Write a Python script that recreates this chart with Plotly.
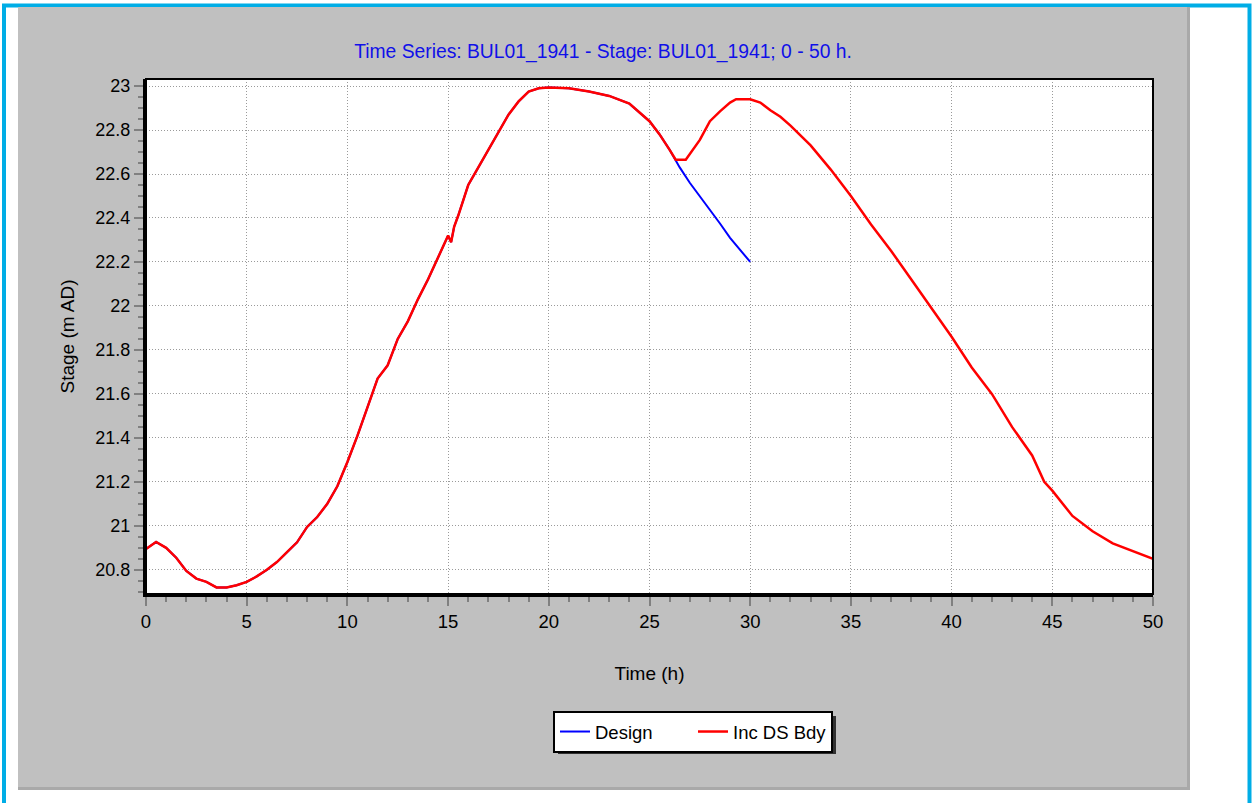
import plotly.graph_objects as go

# ---- data ----
time_inc = [0, 0.5, 1, 1.5, 2, 2.5, 3, 3.5, 4, 4.5, 5, 5.5, 6, 6.5, 7, 7.5, 8, 8.5, 9, 9.5,
            10, 10.5, 11, 11.5, 12, 12.5, 13, 13.5, 14, 14.5, 15, 15.15, 15.3, 15.5, 16, 16.5,
            17, 17.5, 18, 18.5, 19, 19.5, 20, 21, 22, 23, 24, 25, 25.5, 26, 26.3, 26.8, 27,
            27.5, 28, 28.5, 29, 29.3, 30, 30.5, 31, 31.5, 32, 33, 34, 35, 36, 37, 38, 39, 40,
            41, 42, 43, 44, 44.6, 45, 46, 47, 48, 49, 50]
stage_inc = [20.895, 20.927, 20.90, 20.855, 20.795, 20.76, 20.745, 20.72, 20.72, 20.73, 20.745,
             20.77, 20.80, 20.835, 20.88, 20.925, 20.995, 21.04, 21.10, 21.18,
             21.29, 21.41, 21.54, 21.67, 21.73, 21.85, 21.93, 22.03, 22.12, 22.22, 22.32, 22.29,
             22.36, 22.41, 22.55, 22.63, 22.71, 22.79, 22.87, 22.93, 22.975, 22.99, 22.993,
             22.99, 22.975, 22.955, 22.92, 22.84, 22.78, 22.71, 22.665, 22.665, 22.69,
             22.755, 22.84, 22.885, 22.925, 22.94, 22.94, 22.925, 22.89, 22.86, 22.82, 22.73,
             22.62, 22.50, 22.37, 22.25, 22.12, 21.99, 21.86, 21.72, 21.60, 21.45, 21.32,
             21.20, 21.16, 21.045, 20.975, 20.92, 20.885, 20.85]

time_design = [0, 0.5, 1, 1.5, 2, 2.5, 3, 3.5, 4, 4.5, 5, 5.5, 6, 6.5, 7, 7.5, 8, 8.5, 9, 9.5,
               10, 10.5, 11, 11.5, 12, 12.5, 13, 13.5, 14, 14.5, 15, 15.15, 15.3, 15.5, 16, 16.5,
               17, 17.5, 18, 18.5, 19, 19.5, 20, 21, 22, 23, 24, 25, 25.5, 26, 26.5, 27, 27.5,
               28, 28.5, 29, 29.5, 30]
stage_design = [20.895, 20.927, 20.90, 20.855, 20.795, 20.76, 20.745, 20.72, 20.72, 20.73, 20.745,
                20.77, 20.80, 20.835, 20.88, 20.925, 20.995, 21.04, 21.10, 21.18,
                21.29, 21.41, 21.54, 21.67, 21.73, 21.85, 21.93, 22.03, 22.12, 22.22, 22.32, 22.29,
                22.36, 22.41, 22.55, 22.63, 22.71, 22.79, 22.87, 22.93, 22.975, 22.99, 22.993,
                22.99, 22.975, 22.955, 22.92, 22.84, 22.78, 22.71, 22.63, 22.56, 22.50,
                22.44, 22.375, 22.31, 22.255, 22.20]

x_ticks = [0, 5, 10, 15, 20, 25, 30, 35, 40, 45, 50]
y_ticks = [20.8, 21, 21.2, 21.4, 21.6, 21.8, 22, 22.2, 22.4, 22.6, 22.8, 23]
y_tick_labels = ["20.8", "21", "21.2", "21.4", "21.6", "21.8", "22", "22.2", "22.4", "22.6", "22.8", "23"]

title_text = "Time Series: BUL01_1941 - Stage: BUL01_1941; 0 - 50 h."

# ---- geometry helpers (pixel -> paper) ----
W, H = 1253, 803
L, R, T, B = 146, 1153, 79, 594
PW, PH = R - L, B - T


def px(x):
    return (x - L) / PW


def py(y):
    return (B - y) / PH


FONT = "Liberation Sans, Arial, Helvetica, sans-serif"

fig = go.Figure()
fig.add_trace(go.Scatter(x=time_design, y=stage_design, mode="lines", name="Design",
                         line=dict(color="#0000FF", width=2)))
fig.add_trace(go.Scatter(x=time_inc, y=stage_inc, mode="lines", name="Inc DS Bdy",
                         line=dict(color="#FF0000", width=2.5)))

LEG_TOP, LEG_H = 711, 39

shapes = [
    # cyan outer border
    dict(type="rect", xref="paper", yref="paper", x0=px(4), x1=px(1249.5), y0=py(806), y1=py(5.5),
         line=dict(color="#00ADE6", width=4), fillcolor="rgba(0,0,0,0)", layer="below"),
    # gray panel (dark edge)
    dict(type="rect", xref="paper", yref="paper", x0=px(18), x1=px(1190), y0=py(790), y1=py(7),
         line=dict(width=0), fillcolor="#A9A9A9", layer="below"),
    dict(type="rect", xref="paper", yref="paper", x0=px(18), x1=px(1187), y0=py(787), y1=py(7),
         line=dict(width=0), fillcolor="#C0C0C0", layer="below"),
    # white plot area
    dict(type="rect", xref="paper", yref="paper", x0=0, x1=1, y0=0, y1=1,
         line=dict(width=0), fillcolor="#FFFFFF", layer="below"),
    # legend shadow
    dict(type="rect", xref="paper", yref="paper", x0=px(558), x1=px(836),
         y0=py(LEG_TOP + LEG_H + 4), y1=py(LEG_TOP + 5),
         line=dict(width=0), fillcolor="#303030", layer="below"),
    # frame top/right
    dict(type="rect", xref="paper", yref="paper", x0=0, x1=1, y0=0, y1=1,
         line=dict(color="#000000", width=2), fillcolor="rgba(0,0,0,0)", layer="above"),
]

fig.update_layout(
    width=W, height=H,
    margin=dict(l=L, r=W - R, t=T, b=H - B, pad=0),
    paper_bgcolor="#FFFFFF",
    plot_bgcolor="#FFFFFF",
    font=dict(family=FONT, color="#000000", size=18),
    title=dict(text=title_text, x=px(603), xref="paper", xanchor="center",
               y=1 - 51 / H, yref="container", yanchor="middle",
               font=dict(family=FONT, size=19.3, color="#1010E8")),
    shapes=shapes,
    showlegend=True,
    legend=dict(orientation="h", x=px(553), y=py(LEG_TOP), xanchor="left", yanchor="top",
                bgcolor="#FFFFFF", bordercolor="#000000", borderwidth=2,
                font=dict(family=FONT, size=18.5, color="#000000"),
                entrywidth=93, entrywidthmode="pixels", itemwidth=30,
                traceorder="normal"),
)

fig.update_xaxes(
    range=[0, 50], tickmode="array", tickvals=x_ticks,
    showline=True, linecolor="#000000", linewidth=3, mirror=False,
    ticks="outside", ticklen=9, tickwidth=2, tickcolor="#808080",
    tickfont=dict(family=FONT, size=18.5, color="#000000"),
    showgrid=True, gridcolor="#9A9A9A", griddash="1px,2px", gridwidth=1,
    zeroline=False,
    minor=dict(dtick=1, ticks="outside", ticklen=5, tickwidth=2, tickcolor="#808080", showgrid=False),
    title=dict(text="Time (h)", font=dict(family=FONT, size=19, color="#000000"), standoff=36),
)
fig.update_yaxes(
    range=[20.69, 23.032], tickmode="array", tickvals=y_ticks, ticktext=y_tick_labels,
    showline=True, linecolor="#000000", linewidth=3, mirror=False,
    ticks="outside", ticklen=9, tickwidth=2, tickcolor="#808080",
    tickfont=dict(family=FONT, size=18, color="#000000"),
    showgrid=True, gridcolor="#9A9A9A", griddash="1px,2px", gridwidth=1,
    zeroline=False,
    minor=dict(dtick=0.05, tick0=20.8, ticks="outside", ticklen=5, tickwidth=2, tickcolor="#808080", showgrid=False),
    title=dict(text="Stage (m AD)", font=dict(family=FONT, size=19, color="#000000"), standoff=16),
)

fig.write_html("out.html", config={"displayModeBar": False},
               post_script="document.body.style.margin='0';document.body.style.overflow='hidden';")
